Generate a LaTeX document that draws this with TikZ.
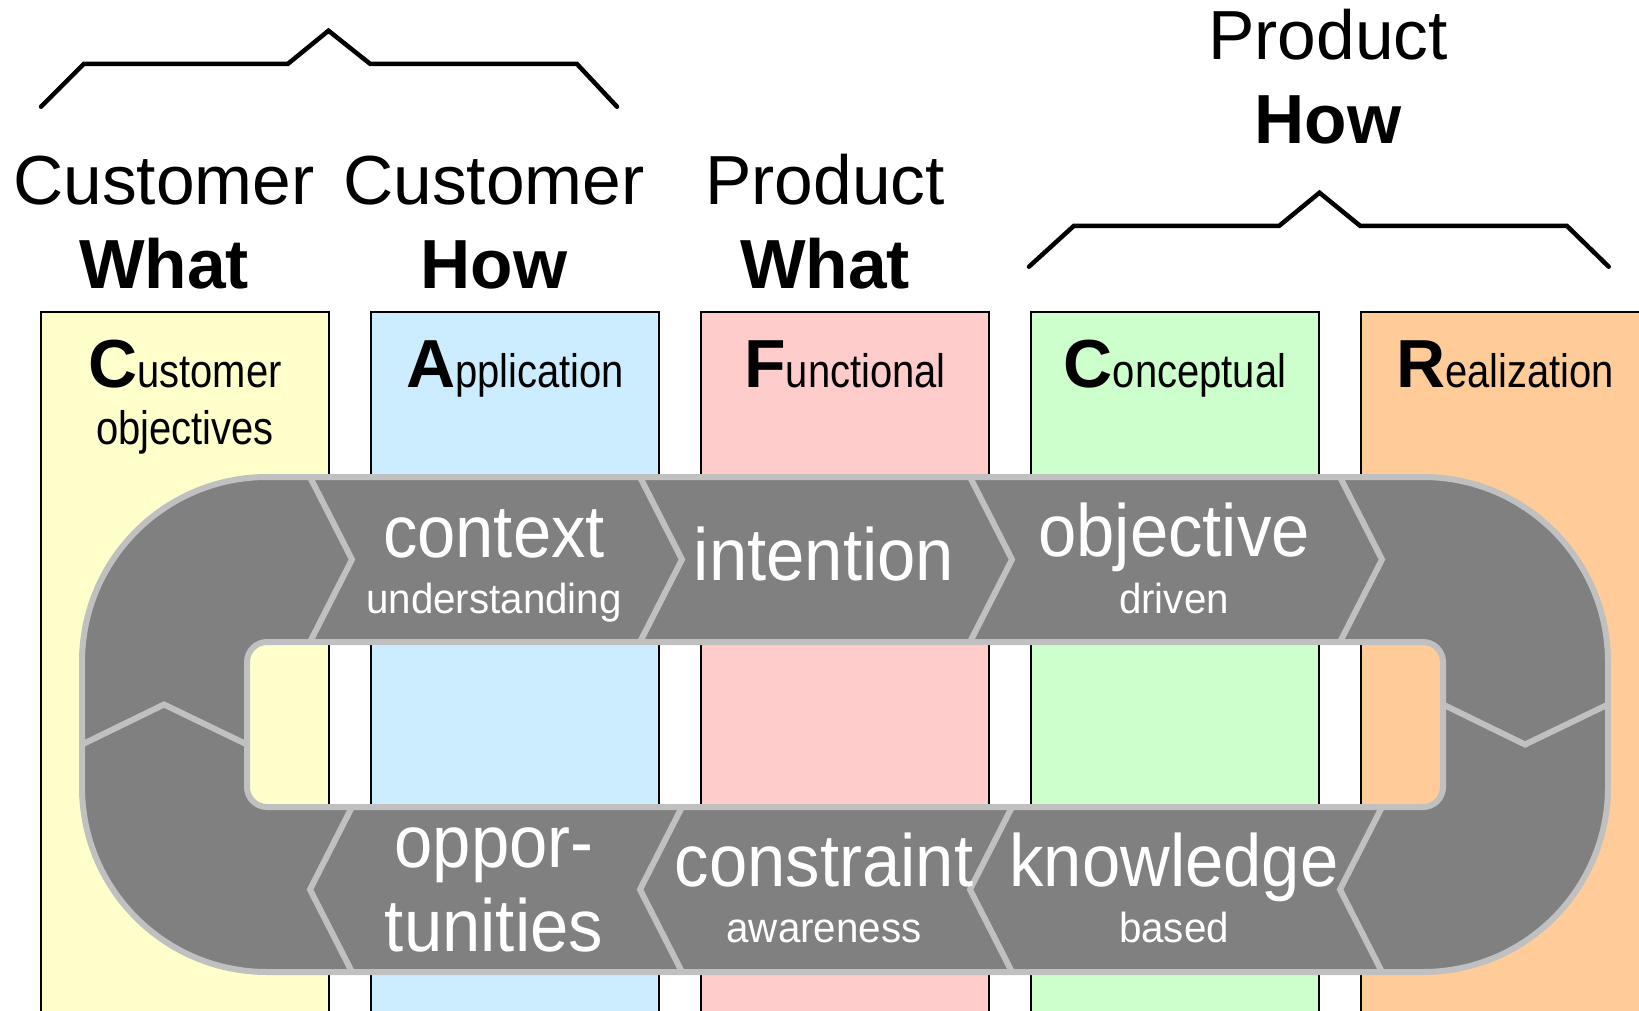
\documentclass[tikz,border=0pt]{standalone}
\usepackage{fontspec}
\setmainfont{Liberation Sans}
\newfontfamily\narrowsans[FakeStretch=0.85]{Liberation Sans}
\newfontfamily\ringsans[FakeStretch=0.93]{Liberation Sans}
\newfontfamily\ringsmallsans[FakeStretch=0.96]{Liberation Sans}

\definecolor{cyellow}{HTML}{FFFFCC}
\definecolor{ablue}{HTML}{CCECFF}
\definecolor{fpink}{HTML}{FFCCCC}
\definecolor{cgreen}{HTML}{CCFFCC}
\definecolor{rorange}{HTML}{FFCC99}
\definecolor{ringgray}{HTML}{808080}
\definecolor{ringline}{HTML}{C0C0C0}

\tikzset{
  colframe/.style={draw=black, line width=2pt},
  ringfill/.style={fill=ringgray, draw=ringline, line width=6pt},
  divider/.style={draw=ringline, line width=6pt, line join=miter},
  brace/.style={draw=black, line width=4.5pt, line cap=round, line join=miter},
  viewlabel/.style={anchor=base, inner sep=0pt},
  headreg/.style={anchor=base, inner sep=0pt, font=\fontsize{69.5}{80}\selectfont},
  headbold/.style={headreg, font=\fontsize{69.5}{80}\selectfont\bfseries},
  ringbig/.style={anchor=base, inner sep=0pt, text=white, font=\ringsans\fontsize{74}{88}\selectfont},
  ringsmall/.style={anchor=base, inner sep=0pt, text=white, font=\ringsmallsans\fontsize{42}{50}\selectfont}
}

% one view column: name, left x, colour, big letter, rest of the word
\newcommand{\viewcol}[5]{
  \draw [colframe, fill=#3] (#2,312) rectangle ++(288,760);
  \node [viewlabel] (#1) at (#2+144,387)
    {{\fontsize{68}{80}\selectfont\bfseries #4}{\narrowsans\fontsize{47}{56}\selectfont #5}};
}

\begin{document}
\begin{tikzpicture}[x=1pt, y=-1pt]
\useasboundingbox (0,0) rectangle (1639,1011);
\clip (0,0) rectangle (1639,1011);

\viewcol{customer}{41}{cyellow}{C}{ustomer}
\viewcol{application}{371}{ablue}{A}{pplication}
\viewcol{functional}{701}{fpink}{F}{unctional}
\viewcol{conceptual}{1031}{cgreen}{C}{onceptual}
\viewcol{realization}{1361}{rorange}{R}{ealization}
\node [viewlabel] (objectives) at (185,444) {\narrowsans\fontsize{47}{56}\selectfont objectives};

% the loop
\path [ringfill, even odd rule]
  [rounded corners=185pt] (82,477) rectangle (1608,972)
  [rounded corners=20pt] (247,642) rectangle (1443,807);
\foreach \t in {310,640,970,1340}{
  \draw [divider] (\t,477) -- (\t+42,559.5) -- (\t,642);
  \draw [divider] (\t+42,807) -- (\t,889.5) -- (\t+42,972);
}
\draw [divider] (82,744.5) -- (164,704.5) -- (247,744.5);
\draw [divider] (1443,704.5) -- (1525,744.5) -- (1608,704.5);

\node [ringbig] (context) at (494,557) {context};
\node [ringsmall] (understanding) at (494,613) {understanding};
\node [ringbig] (intention) at (824,580) {intention};
\node [ringbig] (objective) at (1174,556) {objective};
\node [ringsmall] (driven) at (1174,613) {driven};
\node [ringbig] (oppor) at (494,867) {oppor-};
\node [ringbig] (tunities) at (494,951) {tunities};
\node [ringbig] (constraint) at (824,886) {constraint};
\node [ringsmall] (awareness) at (824,942) {awareness};
\node [ringbig] (knowledge) at (1174,886) {knowledge};
\node [ringsmall] (based) at (1174,942) {based};

% headings
\node [headreg] (custwhat) at (164,205) {Customer};
\node [headbold] (custwhatb) at (164,288) {What};
\node [headreg] (custhow) at (494,205) {Customer};
\node [headbold] (custhowb) at (494,288) {How};
\node [headreg] (prodwhat) at (825,205) {Product};
\node [headbold] (prodwhatb) at (825,288) {What};
\node [headreg] (prodhow) at (1328,60) {Product};
\node [headbold] (prodhowb) at (1328,144) {How};

\draw [brace] (41,106.7) -- (83.7,64) -- (287.7,64) -- (328.5,30.7)
  -- (370.3,64) -- (577,64) -- (617,106.7);
\draw [brace] (1029,266.7) -- (1073.7,226) -- (1279,226) -- (1319.5,192.7)
  -- (1360.3,226) -- (1567,226) -- (1608.7,266.7);
\end{tikzpicture}
\end{document}
